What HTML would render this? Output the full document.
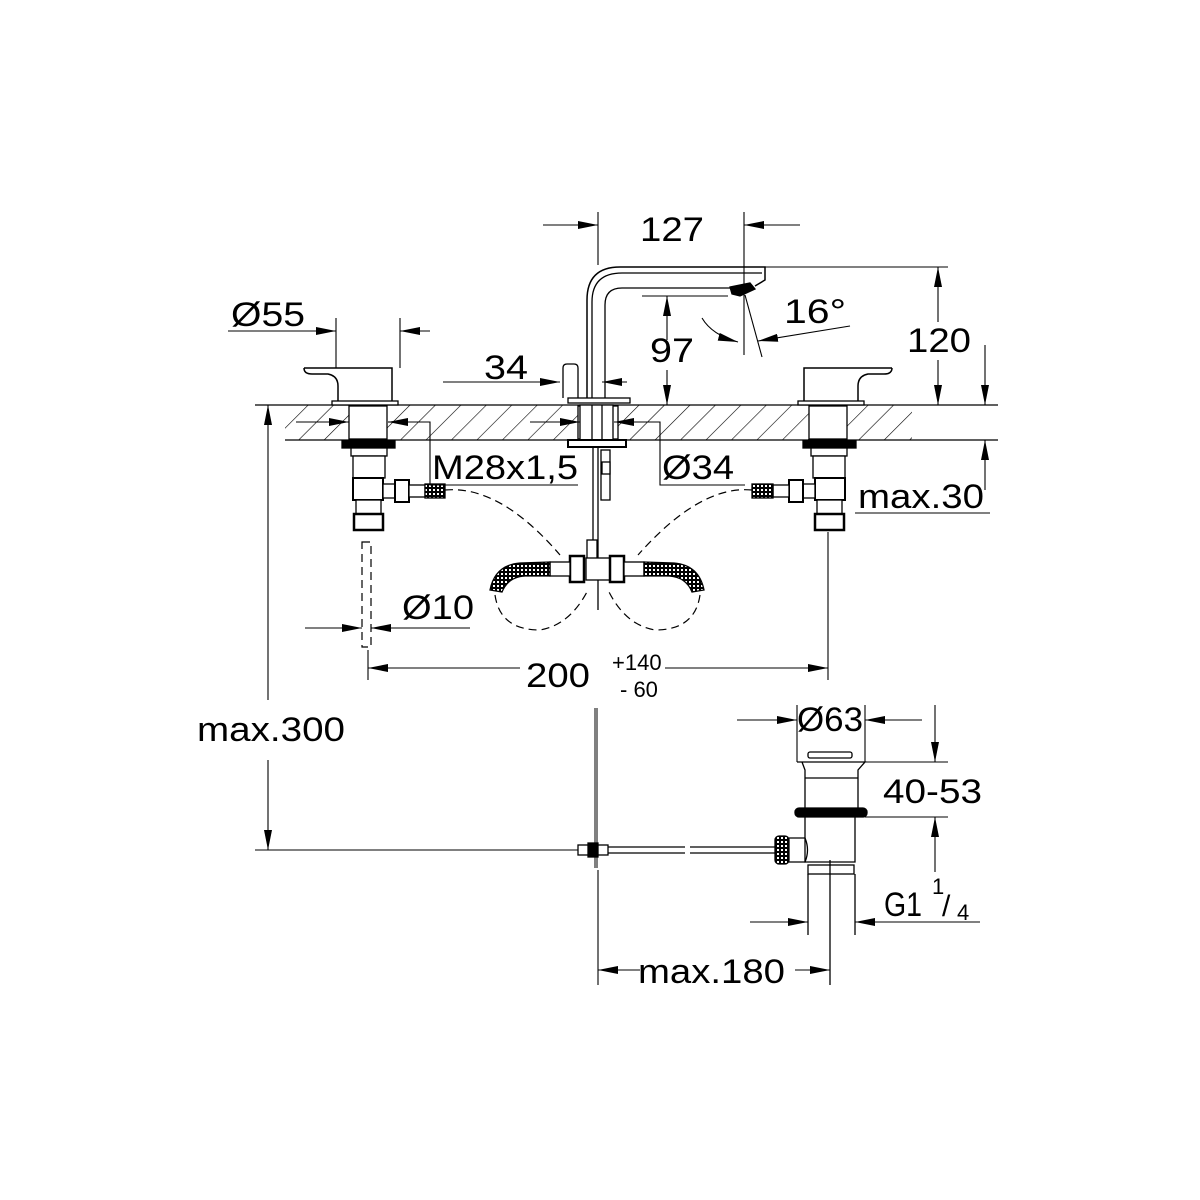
<!DOCTYPE html>
<html><head><meta charset="utf-8"><style>
html,body{margin:0;padding:0;background:#fff;}
svg{display:block;}
text{font-family:"Liberation Sans",sans-serif;fill:#000;}
</style></head><body>
<svg width="1200" height="1200" viewBox="0 0 1200 1200" xmlns="http://www.w3.org/2000/svg">
<defs>
<marker id="aw" viewBox="0 0 20 8" refX="20" refY="4" markerWidth="20" markerHeight="8" orient="auto" markerUnits="userSpaceOnUse"><path d="M0,0L20,4L0,8z" fill="#000"/></marker>
<pattern id="h" width="18" height="18" patternUnits="userSpaceOnUse" patternTransform="rotate(45)"><line x1="0" y1="0" x2="0" y2="18" stroke="#000" stroke-width="1.2"/></pattern>
<pattern id="mesh" width="4" height="4" patternUnits="userSpaceOnUse"><rect width="4" height="4" fill="#000"/><rect x="1" y="1" width="2" height="2" fill="#fff"/></pattern>
</defs>
<g fill="none" stroke="#000" stroke-width="1.3">
<!-- countertop -->
<rect x="285" y="405" width="627" height="35" fill="url(#h)" stroke="none"/>
<line x1="255" y1="405" x2="998" y2="405"/>
<line x1="285" y1="440" x2="998" y2="440"/>
<rect x="349" y="406" width="38" height="33" fill="#fff"/>
<rect x="578" y="406" width="40" height="33" fill="#fff"/>
<rect x="809" y="406" width="38" height="33" fill="#fff"/>

<!-- left handle -->
<path d="M304,368 L392,368 L392,402 M304,368 Q304,374 312,374 L328,374 Q338,376 338,386 L338,402" stroke-width="1.5"/>
<rect x="332" y="401" width="66" height="4" fill="#fff"/>
<!-- right handle -->
<path d="M892,368 L804,368 L804,402 M892,368 Q892,374 884,374 L868,374 Q858,376 858,386 L858,402" stroke-width="1.5"/>
<rect x="798" y="401" width="66" height="4" fill="#fff"/>

<!-- left valve below -->
<rect x="342" y="441" width="53" height="7" fill="#000"/>
<rect x="351" y="448" width="36" height="8" fill="#fff"/>
<rect x="353" y="456" width="32" height="22" fill="#fff"/>
<rect x="353" y="478" width="30" height="22" fill="#fff" stroke-width="2"/>
<rect x="356" y="500" width="25" height="14" fill="#fff"/>
<rect x="354" y="514" width="29" height="16" fill="#fff" stroke-width="2.5"/>
<rect x="383" y="484" width="12" height="14" fill="#fff"/>
<rect x="395" y="480" width="14" height="22" fill="#fff" stroke-width="2"/>
<rect x="409" y="485" width="16" height="12" fill="#fff"/>
<rect x="425" y="484" width="20" height="14" fill="url(#mesh)"/>
<!-- right valve below -->
<rect x="803" y="441" width="53" height="7" fill="#000"/>
<rect x="811" y="448" width="36" height="8" fill="#fff"/>
<rect x="813" y="456" width="32" height="22" fill="#fff"/>
<rect x="815" y="478" width="30" height="22" fill="#fff" stroke-width="2"/>
<rect x="817" y="500" width="25" height="14" fill="#fff"/>
<rect x="815" y="514" width="29" height="16" fill="#fff" stroke-width="2.5"/>
<rect x="803" y="484" width="12" height="14" fill="#fff"/>
<rect x="789" y="480" width="14" height="22" fill="#fff" stroke-width="2"/>
<rect x="773" y="485" width="16" height="12" fill="#fff"/>
<rect x="752" y="484" width="21" height="14" fill="url(#mesh)"/>

<!-- spout -->
<path d="M587,402 L587,300 Q587,267 620,267 L765,267 L765,280 L755,286" stroke-width="1.5"/>
<path d="M605,402 L605,305 Q605,288 622,288 L730,288"/>
<path d="M592,402 L592,302 Q592,273 622,273 L762,273"/>
<path d="M730,287 L750,283 L755,289 L740,296 L732,294 Z" fill="#000"/>
<path d="M563,398 L563,368 Q563,364 567,364 L574,364 Q578,364 578,368 L578,398"/>
<rect x="568" y="398" width="62" height="5" fill="#fff"/>
<rect x="580" y="405" width="33" height="36" fill="#fff"/>
<line x1="592" y1="405" x2="592" y2="441"/><line x1="602" y1="405" x2="602" y2="441"/>
<rect x="568" y="440" width="58" height="7" fill="#fff" stroke-width="2"/>
<line x1="593" y1="447" x2="593" y2="540"/><line x1="598" y1="447" x2="598" y2="610"/>
<rect x="601" y="450" width="9" height="50" fill="#fff"/>
<rect x="602" y="462" width="8" height="12" fill="#fff"/>
<rect x="587" y="540" width="10" height="20"/>
<rect x="586" y="558" width="24" height="22" fill="#fff"/>
<rect x="570" y="556" width="14" height="26" fill="#fff" stroke-width="2.5"/>
<rect x="610" y="556" width="14" height="26" fill="#fff" stroke-width="2.5"/>
<rect x="550" y="562" width="20" height="14" fill="#fff"/>
<rect x="624" y="562" width="20" height="14" fill="#fff"/>
<path d="M550,562 L520,563 Q495,565 490,590 L502,592 Q508,577 525,576 L550,576 Z" fill="url(#mesh)"/>
<path d="M644,562 L674,563 Q699,565 704,590 L692,592 Q686,577 669,576 L644,576 Z" fill="url(#mesh)"/>
</g>
<g fill="none" stroke="#000" stroke-width="1.2" stroke-dasharray="8,5">
<path d="M445,490 Q500,485 560,555"/>
<path d="M752,490 Q700,485 638,555"/>
<path d="M495,595 Q500,630 540,630 Q570,625 588,590"/>
<path d="M700,595 Q695,630 655,630 Q625,625 608,590"/>
<rect x="362" y="542" width="9" height="105"/>
</g>

<!-- drain -->
<g fill="none" stroke="#000" stroke-width="1.3">
<line x1="596" y1="708" x2="596" y2="868" stroke-width="3"/>
<line x1="596" y1="708" x2="596" y2="868" stroke="#fff" stroke-width="1"/>
<rect x="578" y="845" width="30" height="10" fill="#fff"/>
<rect x="588" y="843" width="10" height="14" fill="#000"/>
<path d="M608,847 L685,847 M690,847 L775,847 M608,853 L685,853 M690,853 L775,853"/>
<rect x="775" y="836" width="14" height="28" fill="url(#mesh)" rx="4"/>
<path d="M789,838 L805,838 Q810,850 805,862 L789,862"/>
<rect x="808" y="752" width="44" height="6" rx="2" fill="#fff"/>
<path d="M797,762 L865,762 L858,770 L858,808 M802,762 L805,770 L805,808"/>
<line x1="805" y1="778" x2="858" y2="778"/>
<rect x="795" y="808" width="72" height="9" rx="4" fill="#000"/>
<path d="M805,817 L805,862 L855,862 L855,817"/>
<rect x="808" y="865" width="46" height="9"/>
<line x1="808" y1="874" x2="808" y2="935"/>
<line x1="855" y1="874" x2="855" y2="935"/>
<line x1="830" y1="860" x2="830" y2="985"/>
</g>

<!-- dimension lines -->
<g fill="none" stroke="#000" stroke-width="1.1">
<line x1="598" y1="212" x2="598" y2="265"/>
<line x1="744" y1="212" x2="744" y2="355"/>
<line x1="543" y1="225" x2="598" y2="225" marker-end="url(#aw)"/>
<line x1="800" y1="225" x2="744" y2="225" marker-end="url(#aw)"/>
<line x1="765" y1="267" x2="948" y2="267"/>
<line x1="938" y1="322" x2="938" y2="267" marker-end="url(#aw)"/>
<line x1="938" y1="360" x2="938" y2="405" marker-end="url(#aw)"/>
<line x1="642" y1="296" x2="728" y2="296"/>
<line x1="667" y1="340" x2="667" y2="296" marker-end="url(#aw)"/>
<line x1="667" y1="370" x2="667" y2="405" marker-end="url(#aw)"/>
<line x1="745" y1="295" x2="762" y2="357"/>
<path d="M702,318 Q712,335 738,342" marker-end="url(#aw)"/>
<line x1="850" y1="326" x2="758" y2="341" marker-end="url(#aw)"/>
<line x1="336" y1="318" x2="336" y2="368"/>
<line x1="400" y1="318" x2="400" y2="368"/>
<line x1="228" y1="331" x2="336" y2="331" marker-end="url(#aw)"/>
<line x1="430" y1="331" x2="400" y2="331" marker-end="url(#aw)"/>
<line x1="443" y1="382" x2="560" y2="382" marker-end="url(#aw)"/>
<line x1="627" y1="382" x2="602" y2="382" marker-end="url(#aw)"/>
<line x1="296" y1="422" x2="349" y2="422" marker-end="url(#aw)"/>
<line x1="404" y1="422" x2="388" y2="422" marker-end="url(#aw)"/>
<line x1="530" y1="422" x2="580" y2="422" marker-end="url(#aw)"/>
<line x1="655" y1="422" x2="614" y2="422" marker-end="url(#aw)"/>
<path d="M404,422 L430,422 L430,485 L578,485"/>
<path d="M655,422 L660,422 L660,485 L745,485"/>
<line x1="985" y1="345" x2="985" y2="405" marker-end="url(#aw)"/>
<line x1="985" y1="490" x2="985" y2="440" marker-end="url(#aw)"/>
<line x1="855" y1="513" x2="990" y2="513"/>
<line x1="305" y1="628" x2="362" y2="628" marker-end="url(#aw)"/>
<line x1="470" y1="628" x2="371" y2="628" marker-end="url(#aw)"/>
<line x1="368" y1="650" x2="368" y2="680"/>
<line x1="828" y1="532" x2="828" y2="680"/>
<line x1="420" y1="668" x2="368" y2="668" marker-end="url(#aw)"/>
<line x1="520" y1="668" x2="420" y2="668"/>
<line x1="665" y1="668" x2="828" y2="668" marker-end="url(#aw)"/>
<line x1="268" y1="700" x2="268" y2="405" marker-end="url(#aw)"/>
<line x1="268" y1="760" x2="268" y2="850" marker-end="url(#aw)"/>
<line x1="255" y1="850" x2="578" y2="850"/>
<line x1="797" y1="705" x2="797" y2="762"/>
<line x1="865" y1="705" x2="865" y2="762"/>
<line x1="737" y1="720" x2="797" y2="720" marker-end="url(#aw)"/>
<line x1="922" y1="720" x2="865" y2="720" marker-end="url(#aw)"/>
<line x1="865" y1="762" x2="948" y2="762"/>
<line x1="865" y1="817" x2="948" y2="817"/>
<line x1="935" y1="705" x2="935" y2="762" marker-end="url(#aw)"/>
<line x1="935" y1="872" x2="935" y2="817" marker-end="url(#aw)"/>
<line x1="750" y1="922" x2="808" y2="922" marker-end="url(#aw)"/>
<line x1="980" y1="922" x2="855" y2="922" marker-end="url(#aw)"/>
<line x1="598" y1="870" x2="598" y2="985"/>
<line x1="640" y1="970" x2="598" y2="970" marker-end="url(#aw)"/>
<line x1="795" y1="970" x2="830" y2="970" marker-end="url(#aw)"/>
</g>

<g font-size="34" lengthAdjust="spacingAndGlyphs">
<text x="640" y="241" textLength="64" lengthAdjust="spacingAndGlyphs">127</text>
<text x="907" y="352" textLength="64" lengthAdjust="spacingAndGlyphs">120</text>
<text x="650" y="362" textLength="44" lengthAdjust="spacingAndGlyphs">97</text>
<text x="784" y="323" textLength="62" lengthAdjust="spacingAndGlyphs">16°</text>
<text x="231" y="326" textLength="74" lengthAdjust="spacingAndGlyphs">Ø55</text>
<text x="484" y="379" textLength="44" lengthAdjust="spacingAndGlyphs">34</text>
<text x="432" y="479" textLength="146" lengthAdjust="spacingAndGlyphs">M28x1,5</text>
<text x="662" y="479" textLength="72" lengthAdjust="spacingAndGlyphs">Ø34</text>
<text x="858" y="508" textLength="126" lengthAdjust="spacingAndGlyphs">max.30</text>
<text x="402" y="619" textLength="72" lengthAdjust="spacingAndGlyphs">Ø10</text>
<text x="526" y="687" textLength="64" lengthAdjust="spacingAndGlyphs">200</text>
<text x="197" y="741" textLength="148" lengthAdjust="spacingAndGlyphs">max.300</text>
<text x="797" y="731" textLength="66" lengthAdjust="spacingAndGlyphs">Ø63</text>
<text x="883" y="803" textLength="99" lengthAdjust="spacingAndGlyphs">40-53</text>
<text x="884" y="916" textLength="38" lengthAdjust="spacingAndGlyphs">G1</text>
<text x="638" y="983" textLength="147" lengthAdjust="spacingAndGlyphs">max.180</text>
</g>
<g font-size="22">
<text x="612" y="670">+140</text>
<text x="620" y="697">- 60</text>
<text x="932" y="894">1</text>
<text x="957" y="920">4</text>
</g>
<text x="942" y="916" font-size="30">/</text>
</svg>
</body></html>
